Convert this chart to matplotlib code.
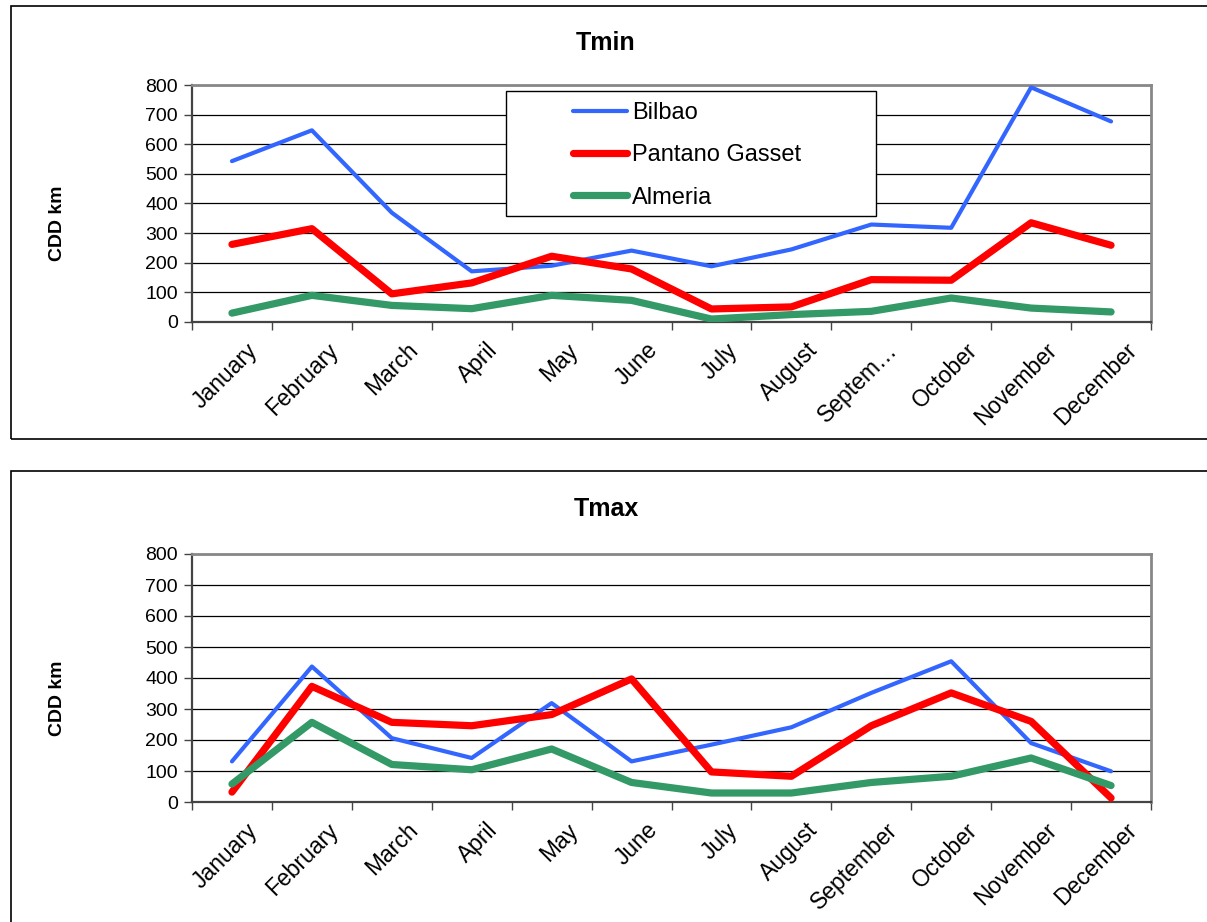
import matplotlib
matplotlib.use("Agg")
import numpy as np
import matplotlib.pyplot as plt
from matplotlib.lines import Line2D
from matplotlib.patches import Rectangle

plt.rcParams['font.family'] = ['Liberation Sans', 'DejaVu Sans']

months = ["January", "February", "March", "April", "May", "June", "July",
          "August", "September", "October", "November", "December"]
months_short = months[:8] + ["Septem\u2026"] + months[9:]

# CDD km, minimum temperature
tmin_bilbao = [543, 647, 369, 171, 190, 241, 188, 245, 329, 318, 792, 677]
tmin_pantano = [262, 315, 95, 132, 222, 179, 44, 51, 143, 141, 335, 259]
tmin_almeria = [30, 90, 56, 45, 90, 73, 10, 25, 36, 81, 47, 34]

# CDD km, maximum temperature
tmax_bilbao = [131, 437, 206, 142, 319, 131, 185, 241, 352, 454, 190, 99]
tmax_pantano = [32, 373, 257, 246, 282, 397, 97, 83, 246, 352, 260, 13]
tmax_almeria = [58, 257, 121, 104, 171, 63, 29, 29, 63, 83, 142, 53]

names = ["Bilbao", "Pantano Gasset", "Almeria"]
colors = ["#3366FF", "#FF0000", "#339966"]
widths = [3.0, 5.2, 5.2]

W, H = 1207, 922
fig = plt.figure(figsize=(W / 100, H / 100), dpi=100)


def fx(px):
    return px / W


def fy(py):
    return 1 - py / H


def panel(top, bottom, title, title_y, series, labels):
    ax = fig.add_axes([fx(192), fy(bottom), fx(1151 - 192), (bottom - top) / H])
    x = np.arange(12)
    for vals, c, lw in zip(series, colors, widths):
        ax.plot(x, vals, color=c, lw=lw, solid_capstyle='round',
                solid_joinstyle='round', zorder=3)
    ax.set_xlim(-0.5, 11.5)
    ax.set_ylim(0, 800)
    ax.set_yticks(range(0, 801, 100))
    ax.yaxis.grid(True, color='black', lw=0.9)
    ax.set_axisbelow(True)
    # month names sit a little right of the category centre
    ax.set_xticks(x + 0.18)
    ax.set_xticklabels(labels, rotation=45, ha='right', rotation_mode='anchor',
                       fontsize=16.5)
    ax.set_xticks(np.arange(-0.5, 12, 1), minor=True)
    ax.tick_params(axis='x', which='major', length=0, pad=12)
    ax.tick_params(axis='x', which='minor', length=6, width=1, color='#444444',
                   direction='out')
    ax.tick_params(axis='y', length=6, width=1, color='#444444', labelsize=14,
                   pad=4)
    for s in ['top', 'right']:
        ax.spines[s].set_color('#888888')
        ax.spines[s].set_linewidth(2)
    for s in ['left', 'bottom']:
        ax.spines[s].set_color('#444444')
        ax.spines[s].set_linewidth(1.6)
    fig.text(fx(606), fy(title_y), title, ha='center', va='center',
             fontsize=18, fontweight='bold')
    fig.text(fx(58), fy((top + bottom) / 2 + 20), "CDD km", rotation=90,
             ha='center', va='center', fontsize=14, fontweight='bold')
    return ax


ax1 = panel(85, 322, "Tmin", 43, [tmin_bilbao, tmin_pantano, tmin_almeria],
            months_short)
ax2 = panel(554, 802, "Tmax", 509, [tmax_bilbao, tmax_pantano, tmax_almeria],
            months)

# outer chart frames
fig.add_artist(Rectangle((fx(11), fy(439)), fx(1220 - 11), (439 - 6) / H,
                         transform=fig.transFigure, fill=False,
                         edgecolor='black', lw=1.2, zorder=0))
fig.add_artist(Rectangle((fx(11), fy(940)), fx(1220 - 11), (940 - 471) / H,
                         transform=fig.transFigure, fill=False,
                         edgecolor='black', lw=1.2, zorder=0))

# legend box on the top chart
fig.add_artist(Rectangle((fx(506), fy(216)), fx(876 - 506), (216 - 91) / H,
                         transform=fig.transFigure, facecolor='white',
                         edgecolor='black', lw=1.0, zorder=4))
handles = [Line2D([], [], color=c, lw=lw, solid_capstyle='round')
           for c, lw in zip(colors, widths)]
fig.legend(handles, names, loc='upper left', bbox_to_anchor=(fx(573), fy(102)),
           frameon=False, fontsize=17, handlelength=2.3, handletextpad=0.2,
           labelspacing=0.86, borderpad=0, borderaxespad=0)

fig.savefig("out.png", dpi=100, facecolor='white')
